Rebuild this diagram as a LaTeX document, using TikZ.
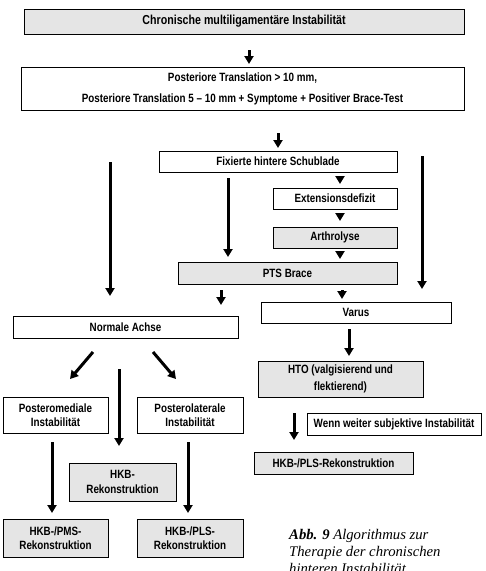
\documentclass[tikz,border=0pt]{standalone}
\usepackage{fontspec}
\usetikzlibrary{arrows.meta}
\newfontfamily\nar{Liberation Sans}[FakeStretch=0.82]
\newfontfamily\capfont{Liberation Serif}
\definecolor{boxgray}{RGB}{229,229,229}
\begin{document}
\begin{tikzpicture}[x=1pt,y=-1pt,
  box/.style={draw=black,line width=0.8pt,fill=white,inner sep=0pt,align=center,
    font=\nar\bfseries\fontsize{12}{14.5}\selectfont},
  gbox/.style={box,fill=boxgray},
  arr/.style={line width=3pt,-{Triangle[width=9pt,length=8pt]}}]
\useasboundingbox (0,0) rectangle (486,571);
% nodes
\node[gbox,minimum width=440,minimum height=25,font=\nar\bfseries\fontsize{13}{15}\selectfont] (top) at (244,21.5) {Chronische multiligamentäre Instabilität};
\node[box,minimum width=443,minimum height=43] (post) at (242.5,88.5) {Posteriore Translation > 10 mm,\\[6.5pt]Posteriore Translation 5 – 10 mm + Symptome + Positiver Brace-Test};
\node[box,minimum width=238,minimum height=21] (fix) at (278,161.5) {Fixierte hintere Schublade};
\node[box,minimum width=124,minimum height=21] (ext) at (335,198.5) {Extensionsdefizit};
\node[gbox,minimum width=124,minimum height=21] (arth) at (335,237.5) {Arthrolyse};
\node[gbox,minimum width=219,minimum height=22] (pts) at (287.5,273) {PTS Brace};
\node[box,minimum width=225,minimum height=22] (norm) at (125.5,327) {Normale Achse};
\node[box,minimum width=190,minimum height=21] (varus) at (356,312.5) {Varus};
\node[gbox,minimum width=165,minimum height=36] (hto) at (340.5,379) {HTO (valgisierend und\\[2.5pt]flektierend)};
\node[box,minimum width=174,minimum height=22] (wenn) at (394,424) {Wenn weiter subjektive Instabilität};
\node[gbox,minimum width=159,minimum height=22] (hkbplsr) at (333.5,463) {HKB-/PLS-Rekonstruktion};
\node[box,minimum width=105,minimum height=36] (pm) at (55.5,415) {Posteromediale\\Instabilität};
\node[box,minimum width=106,minimum height=36] (pl) at (190,415) {Posterolaterale\\Instabilität};
\node[gbox,minimum width=107,minimum height=38] (hkb) at (122.5,482) {HKB-\\Rekonstruktion};
\node[gbox,minimum width=105,minimum height=38] (hkbpms) at (55.5,538) {HKB-/PMS-\\Rekonstruktion};
\node[gbox,minimum width=106,minimum height=38] (hkbpls) at (190,538) {HKB-/PLS-\\Rekonstruktion};
% caption (base = baseline of its last line)
\node[anchor=base west,inner sep=0pt,align=left,font=\capfont\itshape\fontsize{14.7}{17}\selectfont] (cap) at (289,573)
  {\textbf{Abb. 9} Algorithmus zur\\Therapie der chronischen\\hinteren Instabilität};
% arrow coordinates
\coordinate (a1s) at (249,50);   \coordinate (a1e) at (249,64);
\coordinate (a2s) at (278,133);  \coordinate (a2e) at (278,148);
\coordinate (a3s) at (340,176);  \coordinate (a3e) at (340,184);
\coordinate (a4s) at (340,213);  \coordinate (a4e) at (340,221);
\coordinate (a5s) at (340,252);  \coordinate (a5e) at (340,259);
\coordinate (a6s) at (228,178);  \coordinate (a6e) at (228,257);
\coordinate (a7s) at (422,156);  \coordinate (a7e) at (422,289);
\coordinate (a8s) at (110,162);  \coordinate (a8e) at (110,296);
\coordinate (a9s) at (221,290);  \coordinate (a9e) at (221,305);
\coordinate (a10s) at (342,290); \coordinate (a10e) at (342,299);
\coordinate (a11s) at (349,329); \coordinate (a11e) at (349,356);
\coordinate (a12s) at (294,413); \coordinate (a12e) at (294,440);
\coordinate (d1s) at (93,352);   \coordinate (d1e) at (70,379);
\coordinate (d2s) at (153,352);  \coordinate (d2e) at (176,379);
\coordinate (m1s) at (119,369);  \coordinate (m1e) at (119,446);
\coordinate (b1s) at (52,442);   \coordinate (b1e) at (52,513);
\coordinate (b2s) at (188,442);  \coordinate (b2e) at (188,513);
% arrows
\foreach \a in {a1,a2,a3,a4,a5,a6,a7,a8,a9,a10,a11,a12,d1,d2,m1,b1,b2}
  \draw[arr] (\a s) -- (\a e);
\end{tikzpicture}
\end{document}
